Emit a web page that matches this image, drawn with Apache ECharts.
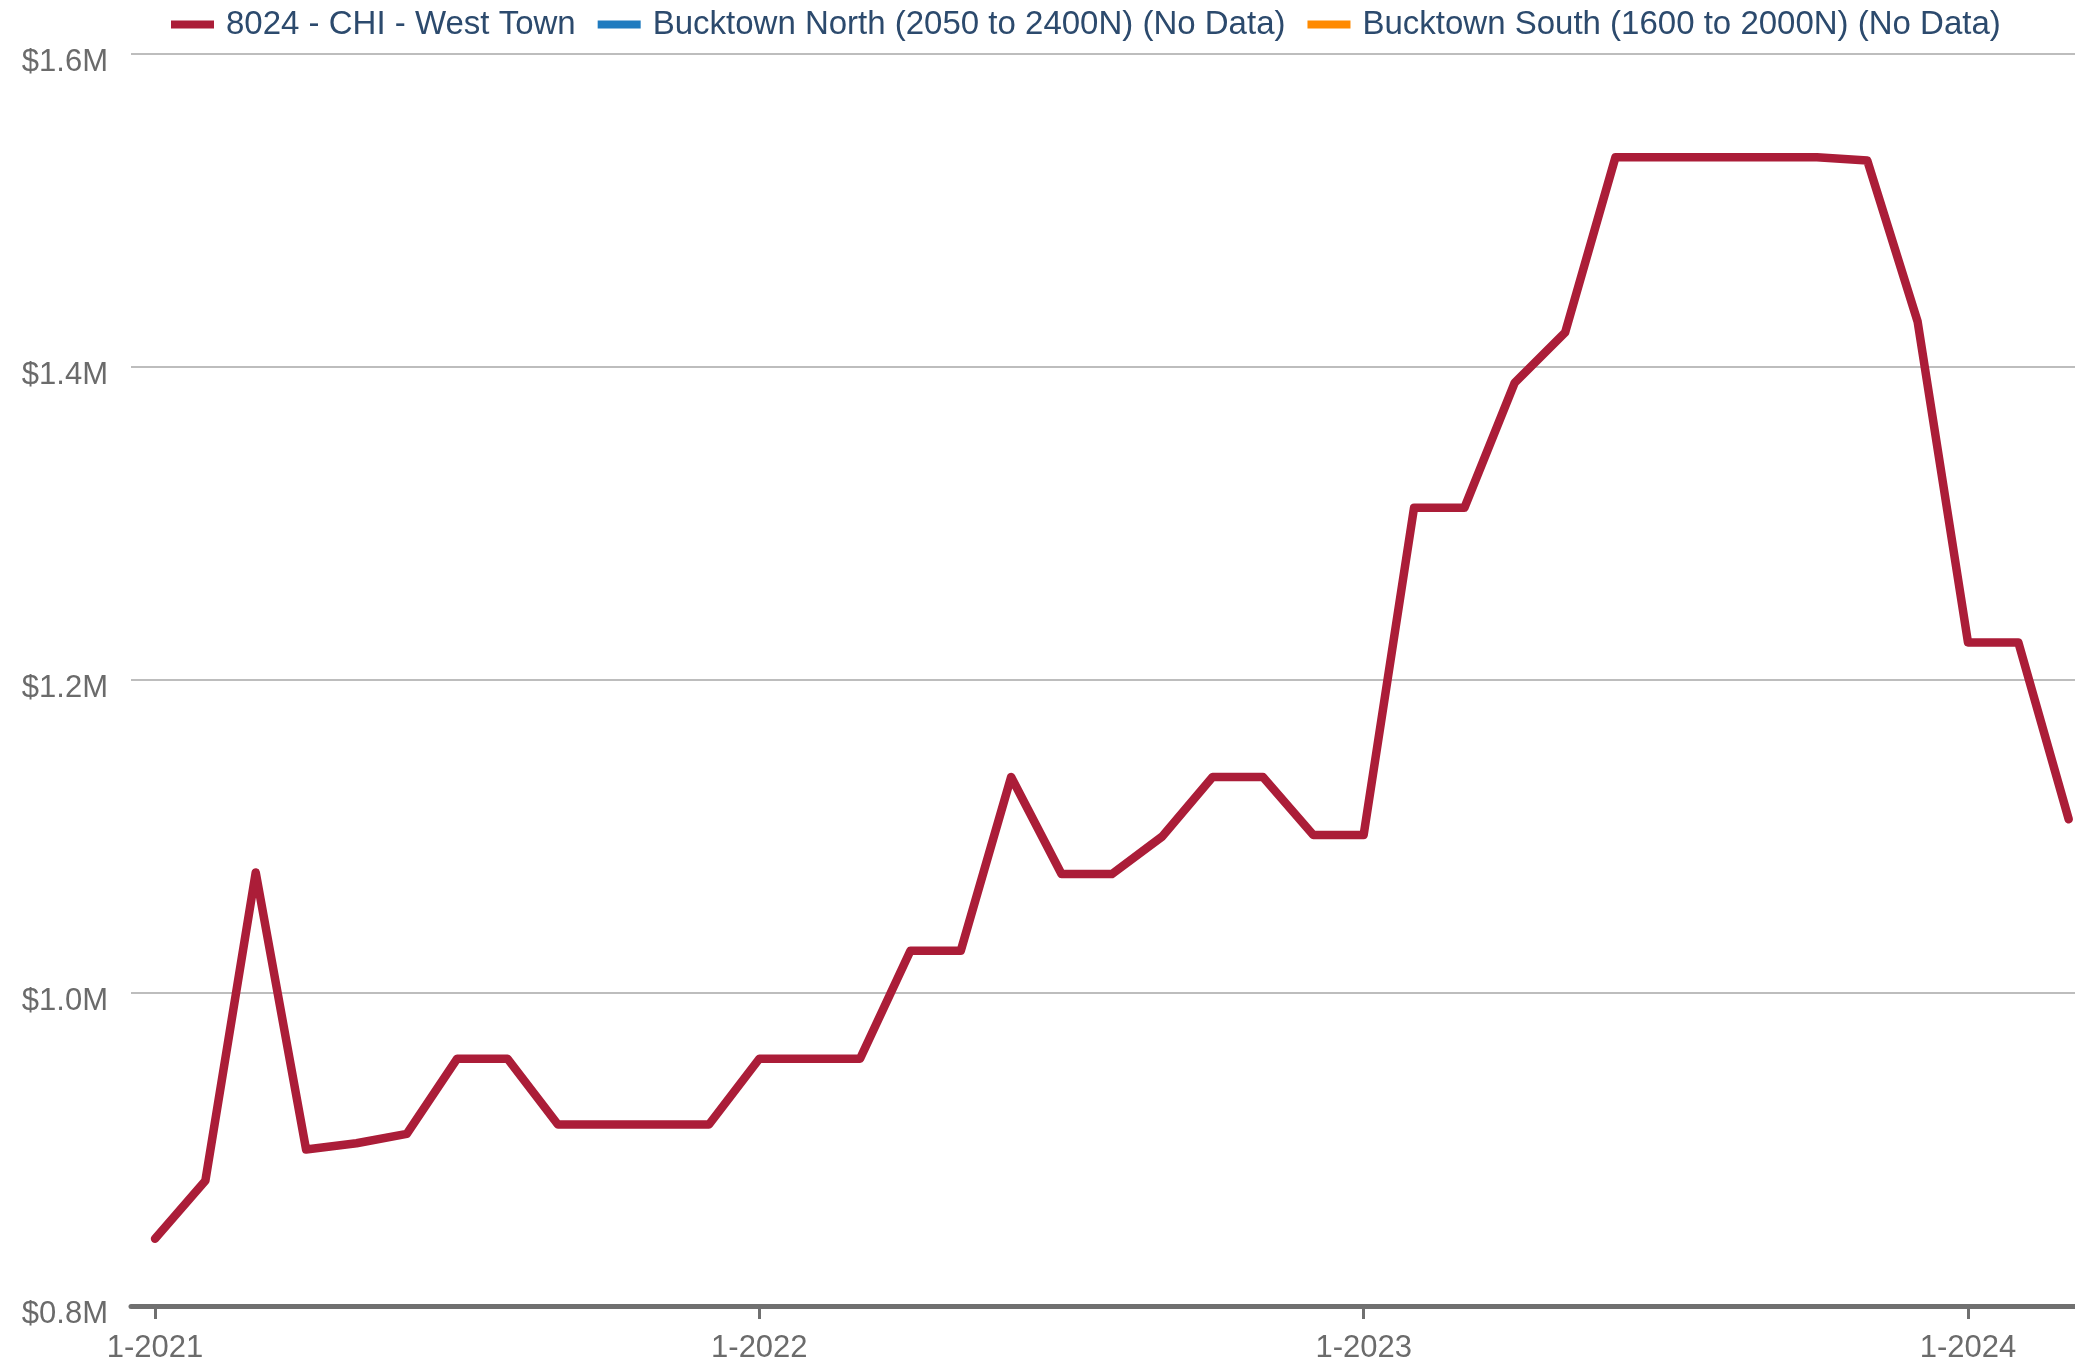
<!DOCTYPE html>
<html>
<head>
<meta charset="utf-8">
<title>West Town median price</title>
<script src="https://cdn.jsdelivr.net/npm/echarts@6/dist/echarts.min.js"></script>
<style>
  html, body { margin: 0; padding: 0; background: #ffffff; }
  #chart { width: 2075px; height: 1365px; }
</style>
</head>
<body>
<div id="chart"></div>
<script>
// Monthly periods, January 2021 through March 2024
const months = [
  '1-2021','2-2021','3-2021','4-2021','5-2021','6-2021','7-2021','8-2021','9-2021','10-2021','11-2021','12-2021',
  '1-2022','2-2022','3-2022','4-2022','5-2022','6-2022','7-2022','8-2022','9-2022','10-2022','11-2022','12-2022',
  '1-2023','2-2023','3-2023','4-2023','5-2023','6-2023','7-2023','8-2023','9-2023','10-2023','11-2023','12-2023',
  '1-2024','2-2024','3-2024'
];

// 8024 - CHI - West Town, price in dollars
const westTown = [
  843000, 880000, 1077000, 900000, 904000, 910000, 958000, 958000, 916000, 916000, 916000, 916000,
  958000, 958000, 958000, 1027000, 1027000, 1138000, 1076000, 1076000, 1100000, 1138000, 1138000, 1101000,
  1101000, 1310000, 1310000, 1390000, 1422000, 1534000, 1534000, 1534000, 1534000, 1534000, 1532000, 1429000,
  1224000, 1224000, 1111000
];

// Series without data (legend entries only)
const bucktownNorth = [];
const bucktownSouth = [];

const seriesNames = [
  '8024 - CHI - West Town',
  'Bucktown North (2050 to 2400N) (No Data)',
  'Bucktown South (1600 to 2000N) (No Data)'
];
const seriesColors = ['#ab1d38', '#1f7bbf', '#ff8a00'];

// Year-start ticks on the month axis
const yearTicks = [0, 12, 24, 36];

// Y axis range and tick step
const yMin = 800000, yMax = 1600000, yStep = 200000;

const chart = echarts.init(document.getElementById('chart'), null, { renderer: 'canvas' });

const toPoints = arr => arr.map((v, i) => [i, v]);

chart.setOption({
  animation: false,
  backgroundColor: '#ffffff',
  textStyle: { fontFamily: 'Liberation Sans, Arial, sans-serif' },
  legend: {
    left: 166,
    top: 3,
    icon: 'rect',
    itemWidth: 43,
    itemHeight: 8,
    itemGap: 22,
    textStyle: {
      fontSize: 33,
      color: '#2c4a6d',
      padding: [0, 0, 0, 7]
    },
    data: seriesNames
  },
  grid: { left: 131, right: 0, top: 54, bottom: 59, containLabel: false },
  xAxis: {
    type: 'value',
    min: -0.4766,
    max: 38.125,
    axisLine: { show: true, lineStyle: { color: '#707070', width: 5 } },
    axisTick: {
      show: true,
      customValues: yearTicks,
      length: 13,
      lineStyle: { color: '#707070', width: 3 }
    },
    axisLabel: {
      customValues: yearTicks,
      formatter: v => months[Math.round(v)] || '',
      fontSize: 31,
      color: '#6b6b6b',
      margin: 27
    },
    splitLine: { show: false }
  },
  yAxis: {
    type: 'value',
    min: yMin,
    max: yMax,
    interval: yStep,
    axisLine: { show: false },
    axisTick: { show: false },
    axisLabel: {
      formatter: v => '$' + (v / 1e6).toFixed(1) + 'M',
      fontSize: 31,
      color: '#6b6b6b',
      margin: 23,
      verticalAlign: 'top',
      lineHeight: 16
    },
    splitLine: { show: true, lineStyle: { color: '#bdbdbd', width: 2 } }
  },
  series: [
    {
      name: seriesNames[0],
      type: 'line',
      data: toPoints(westTown),
      showSymbol: false,
      color: seriesColors[0],
      lineStyle: { width: 8.5, color: seriesColors[0], cap: 'round', join: 'round' },
      clip: false
    },
    {
      name: seriesNames[1],
      type: 'line',
      data: toPoints(bucktownNorth),
      showSymbol: false,
      color: seriesColors[1],
      lineStyle: { width: 8, color: seriesColors[1] }
    },
    {
      name: seriesNames[2],
      type: 'line',
      data: toPoints(bucktownSouth),
      showSymbol: false,
      color: seriesColors[2],
      lineStyle: { width: 8, color: seriesColors[2] }
    }
  ]
});
</script>
</body>
</html>
